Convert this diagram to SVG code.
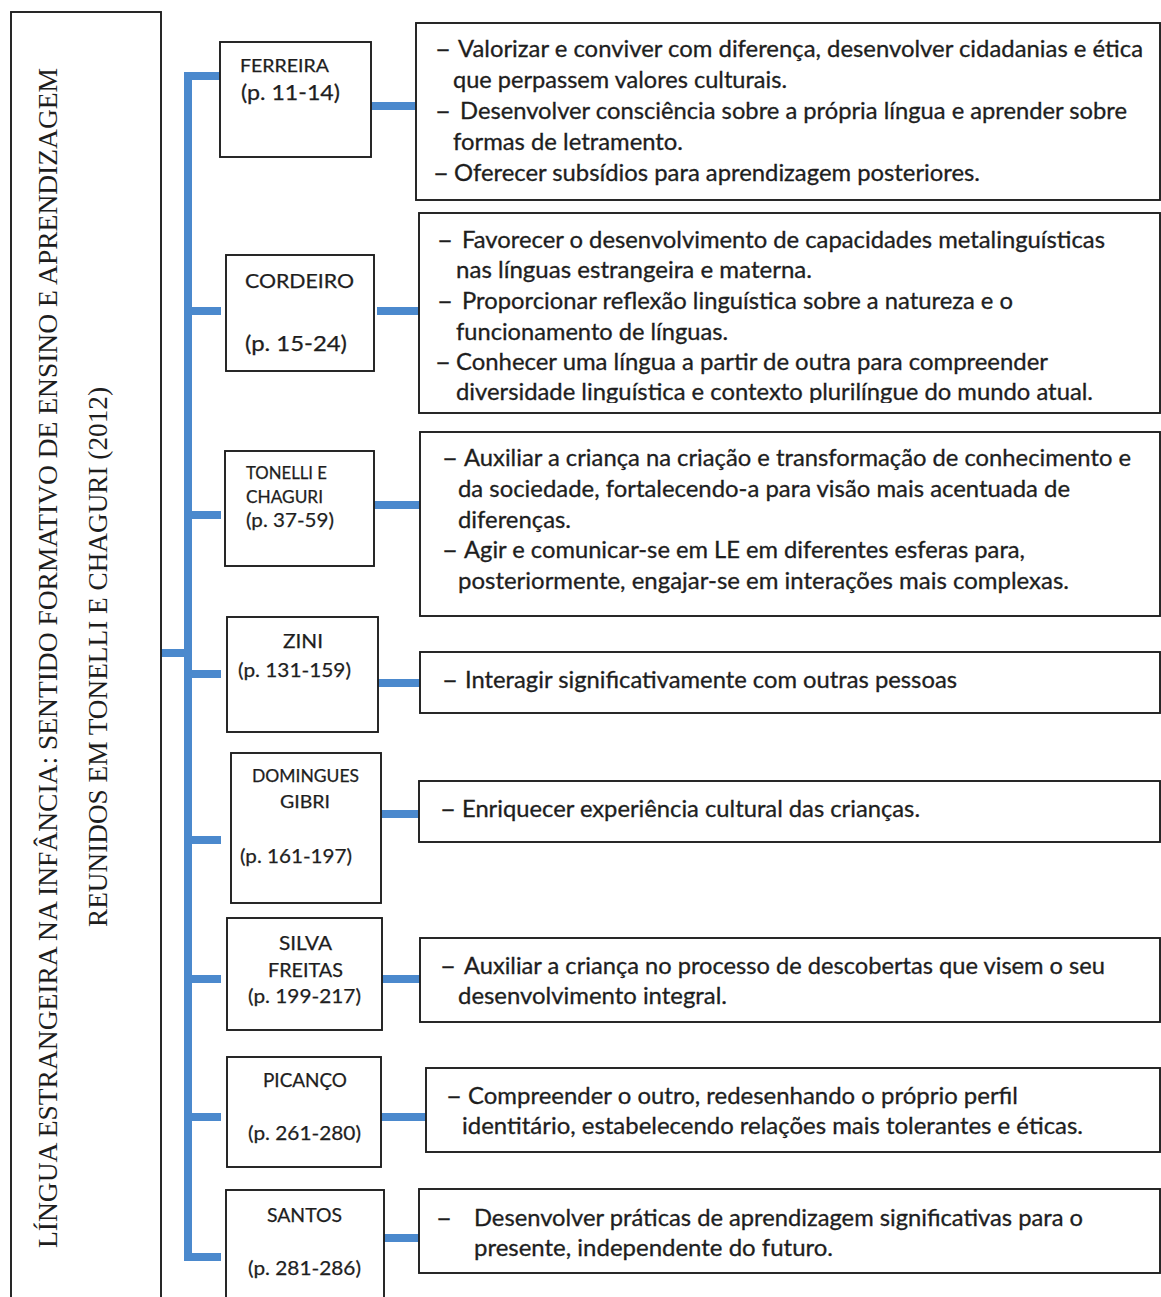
<svg xmlns="http://www.w3.org/2000/svg" width="1161" height="1297" viewBox="0 0 1161 1297">
<style>
.bx{fill:#fff;stroke:#1e1e1e;stroke-width:1.9}
.tt{font-family:"Liberation Serif","Times New Roman",serif;font-size:27px;fill:#1e1e1e}
.t{font-family:Lato,"Open Sans","Liberation Sans",sans-serif;font-size:23px;fill:#1e1e1e;stroke:#1e1e1e;stroke-width:0.3}
.d{font-family:Lato,"Open Sans","Liberation Sans",sans-serif;font-size:23px;fill:#1e1e1e;stroke:#1e1e1e;stroke-width:0.3}
.n{font-family:Lato,"Open Sans","Liberation Sans",sans-serif;fill:#1e1e1e;stroke:#1e1e1e;stroke-width:0.25}
.c{stroke:#4b89cd;fill:none;stroke-width:8}
</style>
<defs>
<clipPath id="clip2"><rect x="418" y="212" width="742" height="191"/></clipPath>
</defs>
<rect width="1161" height="1297" fill="#fff"/>

<g id="connectors">
<path class="c" d="M161 653H188M188 72V1261M184 76H221M188 311H221M188 515H221M188 674H221M188 840H221M188 979H221M188 1117H221M184 1257H221"/>
<path class="c" stroke-width="6" d="M371 106H416"/>
<path class="c" d="M377 311H419M374 505H420M378 683H420M381 814H419M382 979H420M381 1117H426M381 1238H419"/>
</g>

<g id="title">
<rect class="bx" x="11" y="12" width="150" height="1300" stroke-width="1.5"/>
<text class="tt" transform="translate(57,658) rotate(-90)" text-anchor="middle" textLength="1180" lengthAdjust="spacingAndGlyphs">LÍNGUA ESTRANGEIRA NA INFÂNCIA: SENTIDO FORMATIVO DE ENSINO E APRENDIZAGEM</text>
<text class="tt" transform="translate(107,657) rotate(-90)" text-anchor="middle" textLength="540" lengthAdjust="spacingAndGlyphs">REUNIDOS EM TONELLI E CHAGURI (2012)</text>
</g>

<g id="ferreira">
<rect class="bx" x="220" y="42" width="151" height="115"/>
<text class="n" x="240" y="72" font-size="18" textLength="89" lengthAdjust="spacingAndGlyphs">FERREIRA</text>
<text class="n" x="241" y="100" font-size="21" textLength="99" lengthAdjust="spacingAndGlyphs">(p. 11-14)</text>
</g>
<g id="ferreira-text">
<rect class="bx" x="416" y="23" width="744" height="177"/>
<text class="d" transform="translate(435,57) scale(1.2,1)">–</text>
<text class="t" x="458" y="57" textLength="685" lengthAdjust="spacingAndGlyphs">Valorizar e conviver com diferença, desenvolver cidadanias e ética</text>
<text class="t" x="453" y="88" textLength="334" lengthAdjust="spacingAndGlyphs">que perpassem valores culturais.</text>
<text class="d" transform="translate(435,119) scale(1.2,1)">–</text>
<text class="t" x="460" y="119" textLength="667" lengthAdjust="spacingAndGlyphs">Desenvolver consciência sobre a própria língua e aprender sobre</text>
<text class="t" x="453" y="150" textLength="230" lengthAdjust="spacingAndGlyphs">formas de letramento.</text>
<text class="d" transform="translate(433,181) scale(1.2,1)">–</text>
<text class="t" x="454" y="181" textLength="526" lengthAdjust="spacingAndGlyphs">Oferecer subsídios para aprendizagem posteriores.</text>
</g>

<g id="cordeiro">
<rect class="bx" x="226" y="255" width="148" height="116"/>
<text class="n" x="245" y="288" font-size="19.5" textLength="109" lengthAdjust="spacingAndGlyphs">CORDEIRO</text>
<text class="n" x="245" y="351" font-size="21" textLength="102" lengthAdjust="spacingAndGlyphs">(p. 15-24)</text>
</g>
<g id="cordeiro-text">
<rect class="bx" x="419" y="213" width="741" height="200"/>
<text class="d" transform="translate(437,248) scale(1.2,1)">–</text>
<text class="t" x="462" y="248" textLength="643" lengthAdjust="spacingAndGlyphs">Favorecer o desenvolvimento de capacidades metalinguísticas</text>
<text class="t" x="456" y="278" textLength="356" lengthAdjust="spacingAndGlyphs">nas línguas estrangeira e materna.</text>
<text class="d" transform="translate(437,309) scale(1.2,1)">–</text>
<text class="t" x="462" y="309" textLength="551" lengthAdjust="spacingAndGlyphs">Proporcionar reflexão linguística sobre a natureza e o</text>
<text class="t" x="456" y="340" textLength="272" lengthAdjust="spacingAndGlyphs">funcionamento de línguas.</text>
<text class="d" transform="translate(435,370) scale(1.2,1)">–</text>
<text class="t" x="456" y="370" textLength="592" lengthAdjust="spacingAndGlyphs">Conhecer uma língua a partir de outra para compreender</text>
<text class="t" x="456" y="400" clip-path="url(#clip2)" textLength="637" lengthAdjust="spacingAndGlyphs">diversidade linguística e contexto plurilíngue do mundo atual.</text>
</g>

<g id="tonelli">
<rect class="bx" x="225" y="451" width="149" height="115"/>
<text class="n" x="246" y="479" font-size="17" textLength="81" lengthAdjust="spacingAndGlyphs">TONELLI E</text>
<text class="n" x="246" y="503" font-size="17" textLength="77" lengthAdjust="spacingAndGlyphs">CHAGURI</text>
<text class="n" x="246" y="527" font-size="20" textLength="88" lengthAdjust="spacingAndGlyphs">(p. 37-59)</text>
</g>
<g id="tonelli-text">
<rect class="bx" x="420" y="432" width="740" height="184"/>
<text class="d" transform="translate(442,466) scale(1.2,1)">–</text>
<text class="t" x="464" y="466" textLength="667" lengthAdjust="spacingAndGlyphs">Auxiliar a criança na criação e transformação de conhecimento e</text>
<text class="t" x="458" y="497" textLength="612" lengthAdjust="spacingAndGlyphs">da sociedade, fortalecendo-a para visão mais acentuada de</text>
<text class="t" x="458" y="528" textLength="113" lengthAdjust="spacingAndGlyphs">diferenças.</text>
<text class="d" transform="translate(442,558) scale(1.2,1)">–</text>
<text class="t" x="464" y="558" textLength="561" lengthAdjust="spacingAndGlyphs">Agir e comunicar-se em LE em diferentes esferas para,</text>
<text class="t" x="458" y="589" textLength="611" lengthAdjust="spacingAndGlyphs">posteriormente, engajar-se em interações mais complexas.</text>
</g>

<g id="zini">
<rect class="bx" x="227" y="617" width="151" height="115"/>
<text class="n" x="283" y="648" font-size="20" textLength="40" lengthAdjust="spacingAndGlyphs">ZINI</text>
<text class="n" x="238" y="677" font-size="20" textLength="113" lengthAdjust="spacingAndGlyphs">(p. 131-159)</text>
</g>
<g id="zini-text">
<rect class="bx" x="420" y="652" width="740" height="61"/>
<text class="d" transform="translate(442,688) scale(1.2,1)">–</text>
<text class="t" x="465" y="688" textLength="492" lengthAdjust="spacingAndGlyphs">Interagir significativamente com outras pessoas</text>
</g>

<g id="domingues">
<rect class="bx" x="231" y="753" width="150" height="150"/>
<text class="n" x="252" y="782" font-size="17" textLength="107" lengthAdjust="spacingAndGlyphs">DOMINGUES</text>
<text class="n" x="280" y="808" font-size="17" textLength="50" lengthAdjust="spacingAndGlyphs">GIBRI</text>
<text class="n" x="240" y="863" font-size="20" textLength="112" lengthAdjust="spacingAndGlyphs">(p. 161-197)</text>
</g>
<g id="domingues-text">
<rect class="bx" x="419" y="781" width="741" height="61"/>
<text class="d" transform="translate(440,817) scale(1.2,1)">–</text>
<text class="t" x="462" y="817" textLength="458" lengthAdjust="spacingAndGlyphs">Enriquecer experiência cultural das crianças.</text>
</g>

<g id="silva">
<rect class="bx" x="227" y="918" width="155" height="112"/>
<text class="n" x="279" y="950" font-size="18.5" textLength="53" lengthAdjust="spacingAndGlyphs">SILVA</text>
<text class="n" x="268" y="977" font-size="18.5" textLength="75" lengthAdjust="spacingAndGlyphs">FREITAS</text>
<text class="n" x="248" y="1003" font-size="20" textLength="113" lengthAdjust="spacingAndGlyphs">(p. 199-217)</text>
</g>
<g id="silva-text">
<rect class="bx" x="420" y="938" width="740" height="84"/>
<text class="d" transform="translate(440,974) scale(1.2,1)">–</text>
<text class="t" x="464" y="974" textLength="641" lengthAdjust="spacingAndGlyphs">Auxiliar a criança no processo de descobertas que visem o seu</text>
<text class="t" x="458" y="1004" textLength="269" lengthAdjust="spacingAndGlyphs">desenvolvimento integral.</text>
</g>

<g id="picanco">
<rect class="bx" x="227" y="1057" width="154" height="110"/>
<text class="n" x="263" y="1087" font-size="18.5" textLength="84" lengthAdjust="spacingAndGlyphs">PICANÇO</text>
<text class="n" x="248" y="1140" font-size="20" textLength="113" lengthAdjust="spacingAndGlyphs">(p. 261-280)</text>
</g>
<g id="picanco-text">
<rect class="bx" x="426" y="1068" width="734" height="84"/>
<text class="d" transform="translate(446,1104) scale(1.2,1)">–</text>
<text class="t" x="468" y="1104" textLength="550" lengthAdjust="spacingAndGlyphs">Compreender o outro, redesenhando o próprio perfil</text>
<text class="t" x="462" y="1134" textLength="621" lengthAdjust="spacingAndGlyphs">identitário, estabelecendo relações mais tolerantes e éticas.</text>
</g>

<g id="santos">
<rect class="bx" x="226" y="1190" width="158" height="120"/>
<text class="n" x="267" y="1222" font-size="18.5" textLength="75" lengthAdjust="spacingAndGlyphs">SANTOS</text>
<text class="n" x="248" y="1275" font-size="20" textLength="113" lengthAdjust="spacingAndGlyphs">(p. 281-286)</text>
</g>
<g id="santos-text">
<rect class="bx" x="419" y="1189" width="741" height="84"/>
<text class="d" transform="translate(436,1226) scale(1.2,1)">–</text>
<text class="t" x="474" y="1226" textLength="609" lengthAdjust="spacingAndGlyphs">Desenvolver práticas de aprendizagem significativas para o</text>
<text class="t" x="474" y="1256" textLength="359" lengthAdjust="spacingAndGlyphs">presente, independente do futuro.</text>
</g>
</svg>
